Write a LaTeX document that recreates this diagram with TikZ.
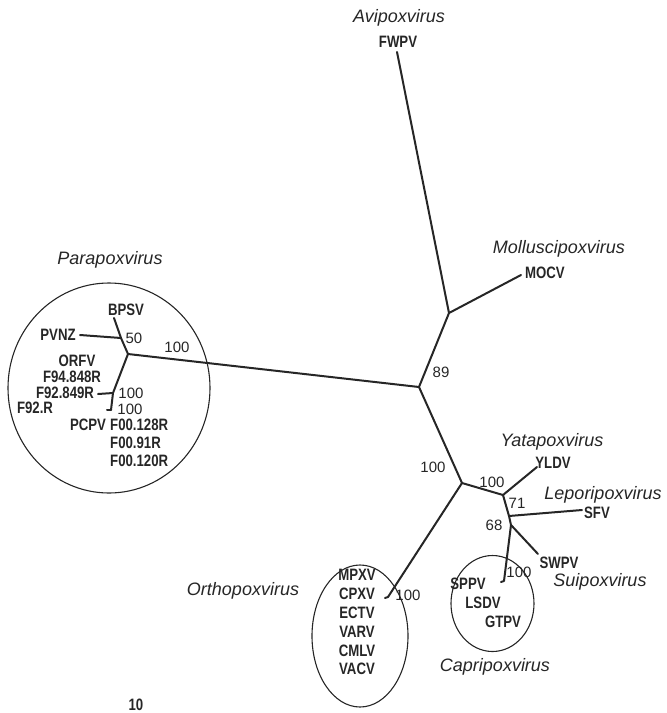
\documentclass[tikz,border=0pt]{standalone}
\usepackage{fontspec}
\setmainfont{Liberation Sans}
\newfontfamily\nbfont{Liberation Sans}[FakeStretch=0.8]
\begin{document}
\begin{tikzpicture}[x=1pt,y=-1pt,
  br/.style={line width=2pt, draw=black!85, line cap=round, line join=round},
  grp/.style={line width=1.1pt, draw=black!85},
  tx/.style={font=\nbfont\fontsize{16.5}{16.5}\selectfont\bfseries, text=black!85, inner sep=0pt},
  gn/.style={font=\fontsize{18}{18}\selectfont\itshape, text=black!85, inner sep=0pt},
  bs/.style={font=\fontsize{15}{15}\selectfont, text=black!85, inner sep=0pt}]
\useasboundingbox (0,0) rectangle (667,713);
% tree coordinates
\coordinate (fwpvE) at (397,52);
\coordinate (A) at (449,313);
\coordinate (mocvE) at (521,275);
\coordinate (B) at (419,387);
\coordinate (P) at (128,354);
\coordinate (bpsvE) at (114,318);
\coordinate (pj) at (121,338);
\coordinate (pvnzE) at (80,335);
\coordinate (Q) at (113,393);
\coordinate (f92E) at (98,394);
\coordinate (R) at (111,410);
\coordinate (Rt) at (107,410);
\coordinate (C) at (462,483);
\coordinate (D) at (503,495);
\coordinate (yldvE) at (537,467);
\coordinate (E) at (509,516);
\coordinate (sfvE) at (582,510);
\coordinate (F) at (511,525);
\coordinate (swpvE) at (538,554);
\coordinate (capE) at (504,581);
\coordinate (capT) at (501,582);
\coordinate (ortE) at (388,597);
\coordinate (ortT) at (385,598);
% branches
\draw[br] (fwpvE) -- (A) -- (mocvE);
\draw[br] (A) -- (B) -- (C);
\draw[br] (B) -- (P);
\draw[br] (bpsvE) -- (pj) -- (P) -- (Q) -- (R);
\draw[br] (pvnzE) -- (pj);
\draw[br] (f92E) -- (Q);
\draw[br] (R) -- (Rt);
\draw[br] (C) -- (D) -- (yldvE);
\draw[br] (D) -- (E) -- (sfvE);
\draw[br] (E) -- (F) -- (swpvE);
\draw[br] (F) -- (capE) -- (capT);
\draw[br] (C) -- (ortE) -- (ortT);
% group ellipses
\draw[grp] (109,388) ellipse [x radius=101, y radius=105];
\draw[grp] (360,636) ellipse [x radius=48, y radius=71];
\draw[grp] (492.5,603.5) ellipse [x radius=41.5, y radius=48];
% genus names
\node[gn] (avi) at (399,18) {Avipoxvirus};
\node[gn] (mol) at (559,249) {Molluscipoxvirus};
\node[gn] (para) at (110,260) {Parapoxvirus};
\node[gn] (yata) at (552,442) {Yatapoxvirus};
\node[gn] (lepo) at (603,495) {Leporipoxvirus};
\node[gn] (sui) at (600,582) {Suipoxvirus};
\node[gn] (orth) at (243,591) {Orthopoxvirus};
\node[gn] (capr) at (495,667) {Capripoxvirus};
% taxa
\node[tx] (fwpv) at (398,42) {FWPV};
\node[tx] (mocv) at (545,273) {MOCV};
\node[tx] (bpsv) at (126,310) {BPSV};
\node[tx] (pvnz) at (58,335) {PVNZ};
\node[tx] (orfv) at (77,361) {ORFV};
\node[tx] (f94) at (72,377) {F94.848R};
\node[tx] (f92a) at (65,393) {F92.849R};
\node[tx] (f92b) at (35,408) {F92.R};
\node[tx] (pcpv) at (88,425) {PCPV};
\node[tx,anchor=west] (f00a) at (110,425) {F00.128R};
\node[tx,anchor=west] (f00b) at (110,443) {F00.91R};
\node[tx,anchor=west] (f00c) at (110,461) {F00.120R};
\node[tx] (yldv) at (553,463) {YLDV};
\node[tx] (sfv) at (597,513) {SFV};
\node[tx] (swpv) at (559,563) {SWPV};
\node[tx] (sppv) at (468,584) {SPPV};
\node[tx] (lsdv) at (483,603) {LSDV};
\node[tx] (gtpv) at (503,622) {GTPV};
\node[tx] (mpxv) at (357,575) {MPXV};
\node[tx] (cpxv) at (357,594) {CPXV};
\node[tx] (ectv) at (357,613) {ECTV};
\node[tx] (varv) at (357,632) {VARV};
\node[tx] (cmlv) at (357,651) {CMLV};
\node[tx] (vacv) at (357,669) {VACV};
\node[tx] (scale) at (136,705) {10};
% bootstrap values
\node[bs] (b50) at (134,338) {50};
\node[bs] (b100p) at (177,347) {100};
\node[bs] (b100q) at (131,393) {100};
\node[bs] (b100r) at (130,409) {100};
\node[bs] (b89) at (441,372) {89};
\node[bs] (b100c) at (433,467) {100};
\node[bs] (b100d) at (492,482) {100};
\node[bs] (b71) at (517,503) {71};
\node[bs] (b68) at (494,525) {68};
\node[bs] (b100cap) at (519,572) {100};
\node[bs] (b100ort) at (408,595) {100};
\end{tikzpicture}
\end{document}
